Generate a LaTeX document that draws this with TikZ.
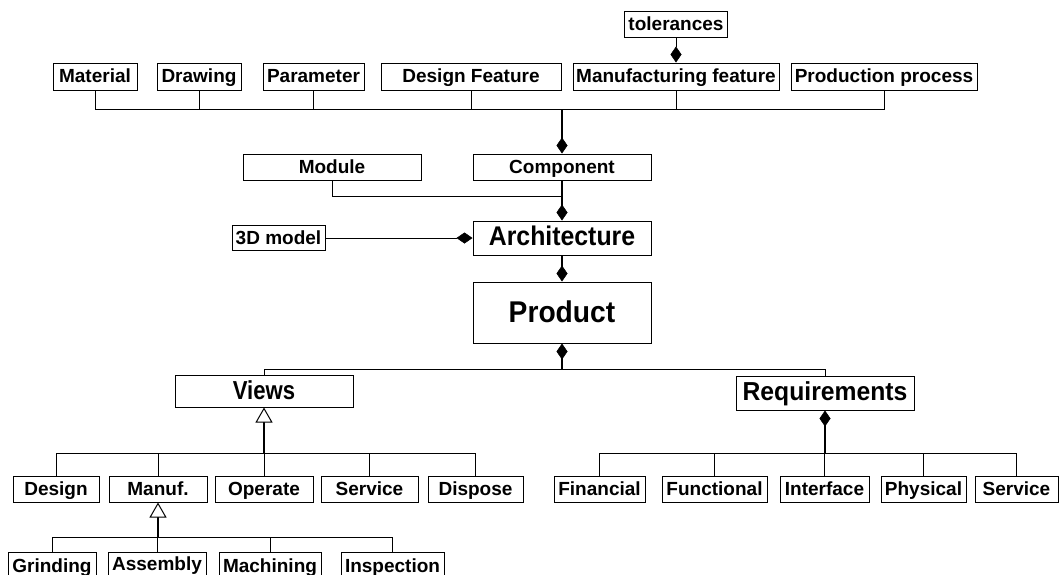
\documentclass[tikz,border=0pt]{standalone}
\usepackage{fontspec}
\setmainfont{Liberation Sans}
\newfontfamily\archfont[FakeStretch=0.92]{Liberation Sans}
\newfontfamily\viewsfont[FakeStretch=0.85]{Liberation Sans}
\newfontfamily\reqfont[FakeStretch=0.95]{Liberation Sans}
\newfontfamily\prodfont[FakeStretch=0.94]{Liberation Sans}
\usetikzlibrary{arrows.meta}
\tikzset{
  box/.style={draw=black, line width=1pt, fill=white, inner sep=0pt, rectangle,
    font=\bfseries\fontsize{19}{21}\selectfont, text height=14pt, text depth=2pt},
  archbox/.style={box, font=\archfont\bfseries\fontsize{27}{30}\selectfont, text height=19pt, text depth=4pt},
  reqbox/.style={box, font=\reqfont\bfseries\fontsize{26}{29}\selectfont, text height=19pt, text depth=4pt},
  viewbox/.style={box, font=\viewsfont\bfseries\fontsize{26}{29}\selectfont, text height=19pt, text depth=3pt},
  prodbox/.style={box, font=\prodfont\bfseries\fontsize{30}{33}\selectfont, text height=22pt, text depth=3pt},
  conn/.style={line width=1pt, draw=black},
  stem/.style={line width=1.8pt, draw=black},
  dia/.tip={Diamond[length=16pt, width=11pt, line width=0.5pt, fill=black]},
  tri/.tip={Triangle[open, length=15pt, width=17pt, line width=1pt, fill=white]}
}
\begin{document}
\begin{tikzpicture}[x=1pt, y=-1pt]
\useasboundingbox (0,0) rectangle (1059,574);
\clip (0,0) rectangle (1059,574);
\fill[white] (0,0) rectangle (1059,574);

% top row
\node[box, minimum width=103pt, minimum height=26pt] (tol) at (676,24) {tolerances};
\node[box, minimum width=84pt, minimum height=27pt] (mat) at (95,76.5) {Material};
\node[box, minimum width=84pt, minimum height=27pt] (drw) at (199,76.5) {Drawing};
\node[box, minimum width=101pt, minimum height=27pt] (par) at (313.5,76.5) {Parameter};
\node[box, minimum width=180pt, minimum height=27pt] (dfe) at (471,76.5) {Design Feature};
\node[box, minimum width=206pt, minimum height=27pt] (mfe) at (676,76.5) {Manufacturing feature};
\node[box, minimum width=186pt, minimum height=27pt] (pro) at (884,76.5) {Production process};

% middle
\node[box, minimum width=178pt, minimum height=26pt] (mod) at (332,167) {Module};
\node[box, minimum width=178pt, minimum height=26pt] (com) at (562,167) {Component};
\node[box, minimum width=93pt, minimum height=25pt] (tdm) at (278.5,238) {3D model};
\node[archbox, minimum width=178pt, minimum height=34pt] (arc) at (562,238) {Architecture};
\node[prodbox, minimum width=178pt, minimum height=61pt] (prd) at (562,312.5) {Product};
\node[viewbox, minimum width=178pt, minimum height=32pt] (vie) at (264,391) {Views};
\node[reqbox, minimum width=178pt, minimum height=34pt] (req) at (825,393) {Requirements};

% views children
\node[box, minimum width=86pt, minimum height=26pt] (des) at (56,489) {Design};
\node[box, minimum width=98pt, minimum height=26pt] (man) at (158,489) {Manuf.};
\node[box, minimum width=98pt, minimum height=26pt] (ope) at (264,489) {Operate};
\node[box, minimum width=97pt, minimum height=26pt] (ser) at (369.5,489) {Service};
\node[box, minimum width=95pt, minimum height=26pt] (dis) at (475.5,489) {Dispose};

% requirements children
\node[box, minimum width=91pt, minimum height=26pt] (fin) at (599.5,489) {Financial};
\node[box, minimum width=105pt, minimum height=26pt] (fun) at (714.5,489) {Functional};
\node[box, minimum width=89pt, minimum height=26pt] (int) at (824.5,489) {Interface};
\node[box, minimum width=85pt, minimum height=26pt] (phy) at (923.5,489) {Physical};
\node[box, minimum width=83pt, minimum height=26pt] (se2) at (1016.5,489) {Service};

% manuf children
\node[box, minimum width=88pt, minimum height=28pt] (gri) at (52,566) {Grinding};
\node[box, minimum width=98pt, minimum height=28pt, text depth=5pt] (ass) at (157,566) {Assembly};
\node[box, minimum width=102pt, minimum height=28pt] (mac) at (270,566) {Machining};
\node[box, minimum width=103pt, minimum height=28pt] (ins) at (392.5,566) {Inspection};

% coordinates of junctions
\coordinate (tbus) at (562,109);
\coordinate (mj) at (562,196);
\coordinate (pbus) at (562,369.5);
\coordinate (vbus) at (264,453);
\coordinate (rbus) at (825,453);
\coordinate (mbus) at (158,537);

% top bus
\draw[conn] (mat.south) |- (pro.south |- tbus) -- (pro.south);
\draw[conn] (drw.south) -- (drw.south |- tbus);
\draw[conn] (par.south) -- (par.south |- tbus);
\draw[conn] (dfe.south) -- (dfe.south |- tbus);
\draw[conn] (mfe.south) -- (mfe.south |- tbus);
\draw[stem, -{dia}] (tbus) -- (com.north);
\draw[conn, -{dia}] (tol.south) -- (mfe.north);

% component / module / architecture
\draw[stem, -{dia}] (com.south) -- (arc.north);
\draw[conn] (mod.south) |- (mj);
\draw[conn, -{dia}] (tdm.east) -- (arc.west);
\draw[stem, -{dia}] (arc.south) -- (prd.north);

% product to views / requirements
\draw[stem, {dia}-] (prd.south) -- (pbus);
\draw[conn] (vie.north) |- (req.north |- pbus) -- (req.north);

% views children
\draw[stem, -{tri}] (vbus) -- (vie.south);
\draw[conn] (des.north) |- (dis.north |- vbus) -- (dis.north);
\draw[conn] (man.north) -- (man.north |- vbus);
\draw[conn] (ope.north) -- (ope.north |- vbus);
\draw[conn] (ser.north) -- (ser.north |- vbus);

% manuf children
\draw[stem, -{tri}] (mbus) -- (man.south);
\draw[conn] (gri.north) |- (ins.north |- mbus) -- (ins.north);
\draw[conn] (ass.north) -- (ass.north |- mbus);
\draw[conn] (mac.north) -- (mac.north |- mbus);

% requirements children
\draw[stem, {dia}-] (req.south) -- (rbus);
\draw[conn] (fin.north) |- (se2.north |- rbus) -- (se2.north);
\draw[conn] (fun.north) -- (fun.north |- rbus);
\draw[conn] (int.north) -- (int.north |- rbus);
\draw[conn] (phy.north) -- (phy.north |- rbus);
\end{tikzpicture}
\end{document}
